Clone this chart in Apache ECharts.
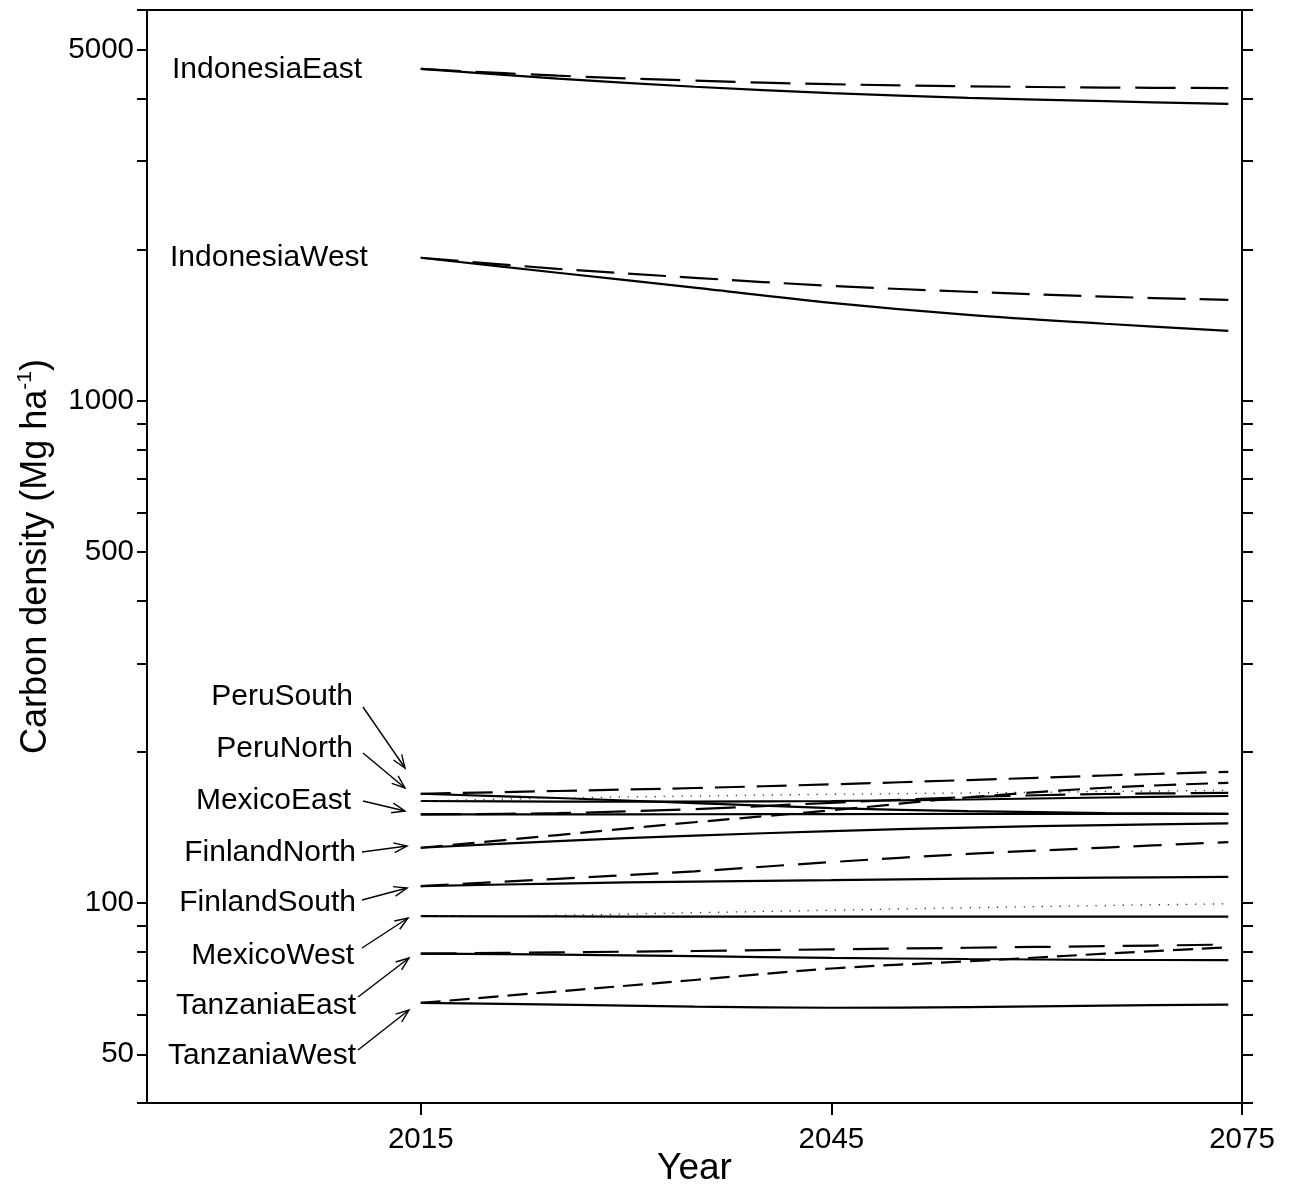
<!DOCTYPE html>
<html>
<head>
<meta charset="utf-8">
<script src="https://cdn.jsdelivr.net/npm/echarts@6/dist/echarts.min.js"></script>
<style>
html, body { margin: 0; padding: 0; background: #fff; }
#main { width: 1290px; height: 1184px; }
</style>
</head>
<body>
<div id="main"></div>
<script>
// years of the projection
const years = [2015, 2025, 2035, 2045, 2055, 2065, 2074]
// carbon density, Mg/ha (solid / dashed / dotted per region)
const indonesiaEastSolid = [4580, 4380, 4220, 4100, 4010, 3950, 3900]
const indonesiaEastDashed = [4580, 4440, 4340, 4270, 4230, 4205, 4195]
const indonesiaWestSolid = [1927, 1799, 1680, 1567, 1483, 1424, 1378]
const indonesiaWestDashed = [1927, 1832, 1758, 1694, 1649, 1612, 1589]
const peruSouthSolid = [165.1, 161.9, 158.2, 154.6, 152.5, 151.1, 150.6]
const peruSouthDashed = [165.1, 167.2, 169.5, 172.4, 175.8, 179.5, 182.6]
const peruNorthSolid = [159.7, 159.3, 159.3, 159.7, 160.8, 162.3, 163.4]
const peruNorthDotted = [159.7, 161.9, 163.4, 164.7, 165.7, 166.8, 167.7]
const mexicoEastSolid = [150.2, 150.2, 150.3, 150.4, 150.5, 150.6, 150.6]
const mexicoEastDashed = [150.2, 151.1, 153.9, 158.4, 162.6, 164.9, 165.7]
const finlandNorthSolid = [128.9, 132.9, 136.3, 139.1, 141.4, 143.0, 144.1]
const finlandNorthDashed = [128.9, 136.6, 144.9, 153.0, 162.4, 169.7, 173.6]
const finlandSouthSolid = [108.1, 109.4, 110.4, 111.1, 111.9, 112.4, 112.8]
const finlandSouthDashed = [108.1, 111.8, 115.7, 120.7, 125.3, 129.0, 132.3]
const mexicoWestSolid = [94.2, 94.1, 94.0, 94.0, 94.0, 94.0, 94.0]
const mexicoWestDotted = [94.2, 94.6, 95.7, 96.8, 97.9, 98.9, 99.7]
const tanzaniaEastSolid = [79.3, 79.0, 78.4, 77.8, 77.4, 77.1, 77.0]
const tanzaniaEastDashed = [79.3, 79.8, 80.3, 80.9, 81.5, 82.1, 82.7]
const tanzaniaWestSolid = [63.3, 62.8, 62.2, 61.9, 62.1, 62.5, 62.8]
const tanzaniaWestDashed = [63.3, 66.7, 70.3, 74.1, 76.6, 79.3, 81.7]

// axis ticks / labels
const yTickValues = [40, 50, 60, 70, 80, 90, 100, 200, 300, 400, 500, 600, 700, 800, 900, 1000, 2000, 3000, 4000, 5000, 6000]
const yLabelValues = [50, 100, 500, 1000, 5000]
const xTickValues = [2015, 2045, 2075]

const fontFamily = '"Liberation Sans", Arial, sans-serif'

const toPairs = (vals) => years.map((y, i) => [y, vals[i]])

// series list: name, values, line style
const seriesDefs = [
  ['IndonesiaEast', indonesiaEastSolid, 'solid'],
  ['IndonesiaEast', indonesiaEastDashed, [40, 15]],
  ['IndonesiaWest', indonesiaWestSolid, 'solid'],
  ['IndonesiaWest', indonesiaWestDashed, [38, 14]],
  ['PeruSouth', peruSouthSolid, 'solid'],
  ['PeruSouth', peruSouthDashed, [30, 12]],
  ['PeruNorth', peruNorthSolid, 'solid'],
  ['PeruNorth', peruNorthDotted, 'dot'],
  ['MexicoEast', mexicoEastSolid, 'solid'],
  ['MexicoEast', mexicoEastDashed, [40, 15]],
  ['FinlandNorth', finlandNorthSolid, 'solid'],
  ['FinlandNorth', finlandNorthDashed, [22, 10]],
  ['FinlandSouth', finlandSouthSolid, 'solid'],
  ['FinlandSouth', finlandSouthDashed, [28, 14]],
  ['MexicoWest', mexicoWestSolid, 'solid'],
  ['MexicoWest', mexicoWestDotted, 'dot'],
  ['TanzaniaEast', tanzaniaEastSolid, 'solid'],
  ['TanzaniaEast', tanzaniaEastDashed, [36, 18]],
  ['TanzaniaWest', tanzaniaWestSolid, 'solid'],
  ['TanzaniaWest', tanzaniaWestDashed, [20, 9]]
]

const series = seriesDefs.map(([name, vals, type]) => {
  let lineStyle = { color: '#000', width: 2.2, type: type }
  if (type === 'dot') {
    lineStyle = { color: '#333', width: 1.3, type: [1.3, 7.7] }
  }
  return {
    name: name,
    type: 'line',
    data: toPairs(vals),
    showSymbol: false,
    smooth: 0.35,
    lineStyle: lineStyle,
    silent: true
  }
})

// region labels with arrows (pixel positions)
const graphics = []
const addText = (text, x, y, align) => {
  graphics.push({
    type: 'text',
    x: x,
    y: y,
    style: { text: text, font: '30px ' + fontFamily, fill: '#000', align: align, verticalAlign: 'middle' }
  })
}
const addArrow = (x1, y1, x2, y2) => {
  const ang = Math.atan2(y2 - y1, x2 - x1)
  const len = 14
  const spread = 0.36
  const h1 = [x2 - len * Math.cos(ang - spread), y2 - len * Math.sin(ang - spread)]
  const h2 = [x2 - len * Math.cos(ang + spread), y2 - len * Math.sin(ang + spread)]
  const st = { stroke: '#000', lineWidth: 1.4, fill: null }
  graphics.push({ type: 'polyline', shape: { points: [[x1, y1], [x2, y2]] }, style: st })
  graphics.push({ type: 'polyline', shape: { points: [h1, [x2, y2], h2] }, style: st })
}
addText('IndonesiaEast', 172, 70, 'left')
addText('IndonesiaWest', 170, 258, 'left')
addText('PeruSouth', 353, 697, 'right')
addText('PeruNorth', 353, 749, 'right')
addText('MexicoEast', 351, 801, 'right')
addText('FinlandNorth', 356, 853, 'right')
addText('FinlandSouth', 356, 903, 'right')
addText('MexicoWest', 354, 956, 'right')
addText('TanzaniaEast', 356, 1006, 'right')
addText('TanzaniaWest', 356, 1056, 'right')
addArrow(363, 707, 405, 768)
addArrow(363, 753, 405, 788)
addArrow(363, 801, 405, 811)
addArrow(362, 852, 407, 846)
addArrow(362, 900, 407, 888)
addArrow(362, 948, 408, 918)
addArrow(358, 997, 409, 958)
addArrow(358, 1050, 409, 1010)

const axisLine = { show: true, onZero: false, lineStyle: { color: '#000', width: 2 } }
const plainNum = (v) => String(v)

const chart = echarts.init(document.getElementById('main'), null, { renderer: 'canvas' })
chart.setOption({
  animation: false,
  backgroundColor: '#fff',
  grid: { left: 147, right: 48, top: 10, bottom: 81, containLabel: false, outerBoundsMode: 'none' },
  xAxis: [
    {
      type: 'value',
      position: 'bottom',
      min: 1995,
      max: 2075,
      name: 'Year',
      nameLocation: 'middle',
      nameGap: 47,
      nameMoveOverlap: false,
      nameTextStyle: { fontSize: 37, fontFamily: fontFamily, color: '#000' },
      axisLine: axisLine,
      axisTick: { show: true, inside: false, length: 12, customValues: xTickValues, lineStyle: { color: '#000', width: 2 } },
      axisLabel: { customValues: xTickValues, formatter: plainNum, fontSize: 29.5, fontFamily: fontFamily, color: '#000', margin: 22 },
      splitLine: { show: false }
    },
    {
      type: 'value',
      position: 'top',
      min: 1995,
      max: 2075,
      axisLine: axisLine,
      axisTick: { show: false },
      axisLabel: { show: false },
      splitLine: { show: false }
    }
  ],
  yAxis: [
    {
      type: 'log',
      logBase: 10,
      position: 'left',
      min: 40,
      max: 6000,
      name: '{a|Carbon density (Mg ha}{s|-1}{a|)}',
      nameLocation: 'middle',
      nameGap: 90,
      nameMoveOverlap: false,
      nameTextStyle: {
        color: '#000',
        rich: {
          a: { fontSize: 36, fontFamily: fontFamily, color: '#000', lineHeight: 42 },
          s: { fontSize: 21, fontFamily: fontFamily, color: '#000', verticalAlign: 'top', lineHeight: 24 }
        }
      },
      axisLine: axisLine,
      axisTick: { show: true, inside: false, length: 10, customValues: yTickValues, lineStyle: { color: '#000', width: 2 } },
      axisLabel: { customValues: yLabelValues, formatter: plainNum, fontSize: 29.5, fontFamily: fontFamily, color: '#000', margin: 13 },
      splitLine: { show: false },
      minorTick: { show: false }
    },
    {
      type: 'log',
      logBase: 10,
      position: 'right',
      min: 40,
      max: 6000,
      axisLine: axisLine,
      axisTick: { show: true, inside: false, length: 11, customValues: yTickValues, lineStyle: { color: '#000', width: 2 } },
      axisLabel: { show: false },
      splitLine: { show: false }
    }
  ],
  series: series,
  graphic: graphics
})
window.addEventListener('resize', () => {
  chart.resize()
})
</script>
</body>
</html>
